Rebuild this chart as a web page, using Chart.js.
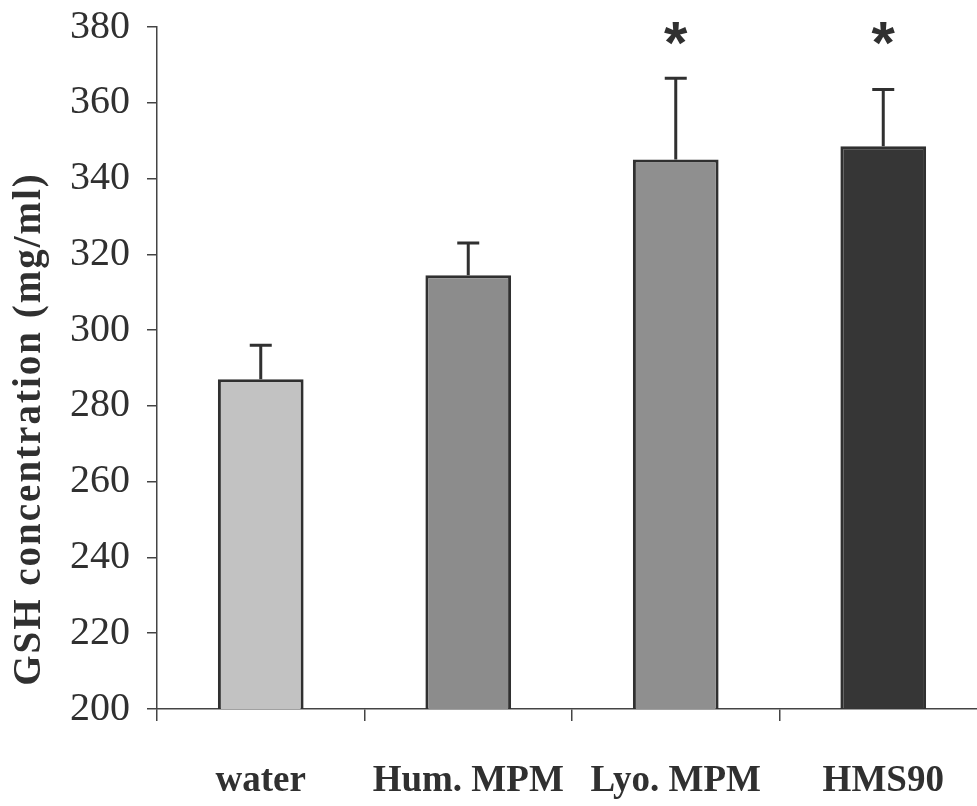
<!DOCTYPE html>
<html>
<head>
<meta charset="utf-8">
<script src="https://cdn.jsdelivr.net/npm/chart.js@4/dist/chart.umd.min.js"></script>
<style>
    body{ margin:0; background:#fff; overflow:hidden; }
    #graph{ width:990px; height:806px; }
</style>
</head>
<body>
<div id="graph"><canvas id="dash"></canvas></div>
<script>
// =========================== Data
const categories = ['water', 'Hum. MPM', 'Lyo. MPM', 'HMS90']
const gsh_mean = [287, 314.5, 345, 348.5]
const gsh_err = [9, 8.5, 21.5, 15]
const signif = [false, false, true, true]
const y_ticks = [200, 220, 240, 260, 280, 300, 320, 340, 360, 380]
const star_level = 377.5
const y_title = 'GSH concentration (mg/ml)'

const bar_colors = ['#c2c2c2', '#8c8c8c', '#8f8f8f', '#363636']
const ink = '#303030'

// =========================== Plugins
const errorBars = {
    id: 'errorBars',
    afterDatasetsDraw(chart){
        const ctx = chart.ctx
        const y = chart.scales.y
        const meta = chart.getDatasetMeta(0)
        ctx.save()
        ctx.strokeStyle = ink
        ctx.lineWidth = 3
        meta.data.forEach((bar, i) => {
            const top = y.getPixelForValue(gsh_mean[i] + gsh_err[i])
            ctx.beginPath()
            ctx.moveTo(bar.x, bar.y)
            ctx.lineTo(bar.x, top)
            ctx.moveTo(bar.x - 11, top)
            ctx.lineTo(bar.x + 11, top)
            ctx.stroke()
            if(signif[i]){
                ctx.fillStyle = ink
                ctx.font = 'bold 60px "Liberation Sans"'
                ctx.textAlign = 'center'
                ctx.textBaseline = 'middle'
                ctx.fillText('*', bar.x, y.getPixelForValue(star_level) + 10)
            }
        })
        ctx.restore()
    }
}

// axis title drawn by hand so it can be spaced out like the original
const yTitle = {
    id: 'yTitle',
    afterDraw(chart){
        const ctx = chart.ctx
        ctx.save()
        ctx.translate(30, 429)
        ctx.rotate(-Math.PI / 2)
        ctx.fillStyle = ink
        ctx.font = 'bold 39px "Liberation Serif"'
        ctx.letterSpacing = '2px'
        ctx.textAlign = 'center'
        ctx.textBaseline = 'middle'
        ctx.fillText(y_title, 0, 0)
        ctx.restore()
    }
}

// =========================== Chart
new Chart(document.getElementById('dash'), {
    type: 'bar',
    data: {
        labels: categories,
        datasets: [{
            data: gsh_mean,
            backgroundColor: bar_colors,
            borderColor: ink,
            borderWidth: 3,
            borderSkipped: false,
            categoryPercentage: 1,
            barPercentage: 0.413,
        }]
    },
    options: {
        responsive: true,
        maintainAspectRatio: false,
        animation: false,
        layout: { padding: { top: 0, right: 3, bottom: 0, left: 0 } },
        plugins: {
            legend: { display: false },
            tooltip: { enabled: false }
        },
        scales: {
            x: {
                grid: {
                    offset: true,
                    drawOnChartArea: false,
                    tickLength: 12,
                    color: '#444',
                    lineWidth: 1.5
                },
                border: { display: true, color: '#444', width: 1.5 },
                ticks: {
                    color: ink,
                    padding: 38,
                    autoSkip: false,
                    maxRotation: 0,
                    font: { family: '"Liberation Serif"', size: 37, weight: 'bold' }
                },
                afterFit(scale){ scale.height = 97 }
            },
            y: {
                min: 200,
                max: 380,
                afterBuildTicks(scale){
                    scale.ticks = y_ticks.map(v => ({ value: v }))
                },
                grid: {
                    drawOnChartArea: false,
                    tickLength: 10,
                    color: '#444',
                    lineWidth: 1.5
                },
                border: { display: true, color: '#444', width: 1.5 },
                ticks: {
                    color: ink,
                    padding: 17,
                    font: { family: '"Liberation Serif"', size: 40 }
                },
                afterFit(scale){
                    scale.width = 157
                    scale.paddingTop = 27
                }
            }
        }
    },
    plugins: [errorBars, yTitle]
})
</script>
</body>
</html>
